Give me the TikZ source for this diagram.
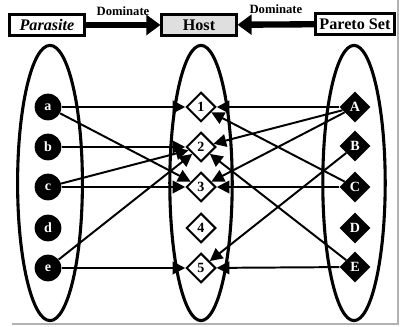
\documentclass[tikz,border=0pt]{standalone}
\usepackage{fontspec}
\setmainfont{Liberation Serif}
\usetikzlibrary{positioning, arrows.meta, shapes.geometric}

\begin{document}
\begin{tikzpicture}[x=0.025cm, y=-0.025cm,
  title/.style={draw, line width=1.8pt, fill=white, font=\fontsize{11.5}{12}\selectfont\bfseries, inner sep=1pt, minimum height=15pt},
  para/.style={circle, fill=black, text=white, font=\bfseries, inner sep=0pt, minimum size=19pt},
  host/.style={diamond, draw, line width=1.4pt, fill=white, font=\bfseries, inner sep=0pt, minimum size=21pt},
  pareto/.style={diamond, fill=black, text=white, font=\bfseries, inner sep=0pt, minimum size=22pt},
  link/.style={line width=1.4pt, -{Triangle[length=9pt, width=9pt]}},
  dom/.style={line width=4.5pt, -{Triangle[length=10pt, width=14pt]}}]
  \useasboundingbox (0,0) rectangle (401,327);
  % frame
  \draw[gray!60, line width=1.2pt] (398,0) -- (398,324) -- (12,324);
  % the three sets
  \draw[line width=2.2pt] (50,183) ellipse [x radius=0.81cm, y radius=3.44cm];
  \draw[line width=2.2pt] (201,183) ellipse [x radius=0.78cm, y radius=3.44cm];
  \draw[line width=2.2pt] (354,183) ellipse [x radius=0.78cm, y radius=3.44cm];
  % headers
  \node[title, minimum width=53pt, font=\fontsize{11.5}{12}\selectfont\bfseries\itshape] (parasite) at (47,25) {Parasite};
  \node[title, minimum width=53pt, fill=gray!25] (host) at (199,25) {Host};
  \node[title, minimum width=56pt] (pareto) at (355,24) {Pareto Set};
  \draw[dom] (parasite) -- node[above=1pt, font=\bfseries\small]{Dominate} (host);
  \draw[dom] (pareto) -- node[above=2pt, font=\bfseries\small]{Dominate} (host);
  % members
  \foreach \i/\y in {a/107, b/147, c/187, d/228, e/268}
    \node[para] (\i) at (48,\y) {\i};
  \foreach \i/\y in {1/107, 2/147, 3/187, 4/228, 5/268}
    \node[host] (h\i) at (201,\y) {\i};
  \foreach \i/\y in {A/107, B/146, C/187, D/228, E/267}
    \node[pareto] (\i) at (355,\y) {\i};
  % parasites dominating hosts
  \foreach \s/\t in {a/1, a/3, b/2, c/2, c/3, e/2, e/5}
    \draw[link] (\s) -- (h\t);
  % pareto members dominating hosts
  \foreach \s/\t in {A/1, A/2, A/3, C/1, C/3, E/2, E/5, B/5}
    \draw[link] (\s) -- (h\t);
\end{tikzpicture}
\end{document}
